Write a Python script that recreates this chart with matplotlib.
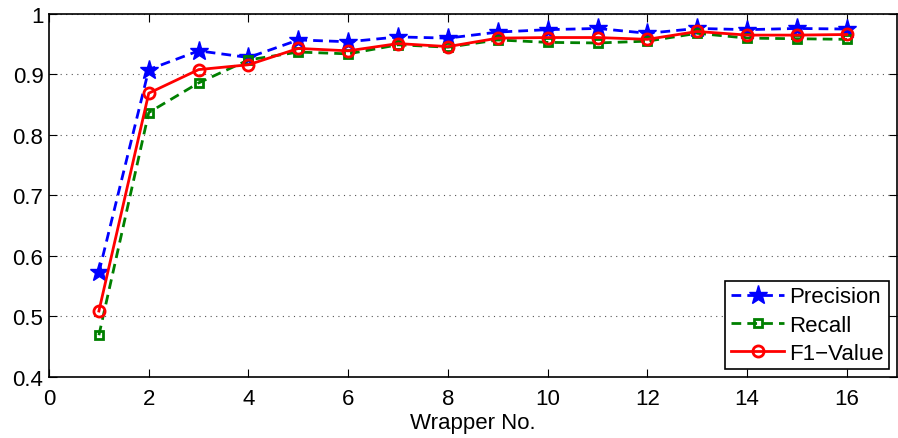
import numpy as np
import matplotlib
matplotlib.use('Agg')
import matplotlib.pyplot as plt

# Дані
wrapper_no = [1, 2, 3, 4, 5, 6, 7, 8, 9, 10, 11, 12, 13, 14, 15, 16]
precision = [0.573, 0.908, 0.939, 0.928, 0.957, 0.954, 0.962, 0.960, 0.970, 0.974,
             0.976, 0.968, 0.976, 0.974, 0.976, 0.975]
recall = [0.469, 0.837, 0.886, 0.924, 0.937, 0.934, 0.949, 0.945, 0.957, 0.953,
          0.952, 0.955, 0.968, 0.960, 0.959, 0.958]
f1_value = [0.509, 0.869, 0.908, 0.916, 0.943, 0.939, 0.951, 0.946, 0.960, 0.961,
            0.961, 0.958, 0.971, 0.965, 0.965, 0.966]

x_ticks = [0, 2, 4, 6, 8, 10, 12, 14, 16]
y_ticks = [0.4, 0.5, 0.6, 0.7, 0.8, 0.9, 1.0]
y_tick_labels = ['0.4', '0.5', '0.6', '0.7', '0.8', '0.9', '1']

plt.rcParams['font.family'] = ['Liberation Sans', 'DejaVu Sans']

fig = plt.figure(figsize=(8.98, 4.39), dpi=100)
ax = fig.add_axes([0.0546, 0.139, 0.944, 0.827])

ax.plot(wrapper_no, precision, '--', color='#0000ff', lw=2, marker='*', ms=14,
        mfc='#0000ff', mec='#0000ff', label='Precision', dashes=(3.5, 2.2))
ax.plot(wrapper_no, recall, '--', color='#008000', lw=2, marker='s', ms=6,
        mfc='none', mec='#008000', mew=2, label='Recall', dashes=(3.5, 2.2))
ax.plot(wrapper_no, f1_value, '-', color='#ff0000', lw=2, marker='o', ms=8,
        mfc='none', mec='#ff0000', mew=2, label='F1\u2212Value')

ax.set_xlim(0, 17)
ax.set_ylim(0.4, 1.0)
ax.set_xticks(x_ticks)
ax.set_yticks(y_ticks)
ax.set_yticklabels(y_tick_labels)
ax.tick_params(direction='in', top=True, right=True, labelsize=16, length=6)
ax.tick_params(axis='x', pad=8)
ax.tick_params(axis='y', pad=4)
ax.yaxis.grid(True, linestyle=(0, (1, 4)), color='#555555', lw=0.8)
for s in ax.spines.values():
    s.set_linewidth(1.2)

ax.set_xlabel('Wrapper No.', fontsize=16, labelpad=2)

leg = ax.legend(loc='lower right', fontsize=16, fancybox=False, framealpha=1,
                edgecolor='black', borderpad=0.25, labelspacing=0.32,
                handlelength=2.4, handletextpad=0.2, borderaxespad=0.35)
leg.get_frame().set_linewidth(1.2)

fig.savefig('out.png', dpi=100)
